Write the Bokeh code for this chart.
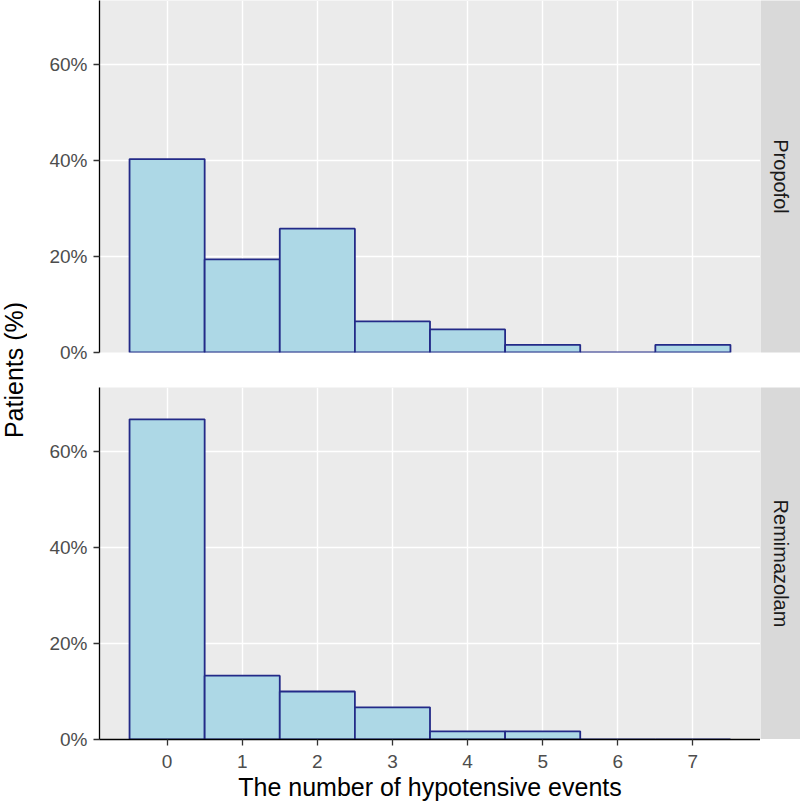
import math
from bokeh.plotting import figure
from bokeh.layouts import row, column
from bokeh.models import (Range1d, FixedTicker, PrintfTickFormatter, Grid, Label,
                          ColumnDataSource)
from bokeh.embed import file_html
from bokeh.resources import INLINE

# ---- data (percent of patients per number of hypotensive events) ----
events = [0, 1, 2, 3, 4, 5, 6, 7]
propofol_pct = [40.3, 19.4, 25.8, 6.5, 4.8, 1.6, 0.0, 1.6]
remimazolam_pct = [66.7, 13.3, 10.0, 6.7, 1.7, 1.7, 0.0, 0.0]
groups = ["Propofol", "Remimazolam"]
y_ticks = [0, 20, 40, 60]
x_label = "The number of hypotensive events"
y_label = "Patients (%)"

FONT = "Liberation Sans"
PANEL_BG = "#EBEBEB"
STRIP_BG = "#D9D9D9"
FILL = "#ADD8E6"
EDGE = "#232A88"
FW, FH = 661, 352
GAP = 35
LEFT = 72
LAB_W = 27
STRIP_W = 40
TICK_FS = "19px"
TITLE_FS = "25px"
STRIP_FS = "20px"


def make_panel(vals, show_x):
    p = figure(frame_width=FW, frame_height=FH,
               x_range=Range1d(-0.9, 7.9), y_range=Range1d(0, 73.33),
               output_backend="svg", toolbar_location=None,
               x_axis_location="below" if show_x else None,
               min_border_left=LEFT, min_border_right=0, min_border_top=0,
               min_border_bottom=0 if show_x else GAP)
    p.background_fill_color = PANEL_BG
    p.border_fill_color = "white"
    p.outline_line_color = None

    src = ColumnDataSource(dict(x=events, top=vals))
    p.vbar(x="x", top="top", bottom=0, width=1.0, source=src,
           fill_color=FILL, line_color=EDGE, line_width=1.8)

    # y axis
    p.yaxis.ticker = FixedTicker(ticks=y_ticks)
    p.yaxis.formatter = PrintfTickFormatter(format="%d%%")
    p.yaxis.axis_line_color = "black"
    p.yaxis.axis_line_width = 1.3
    p.yaxis.major_tick_line_color = "#333333"
    p.yaxis.major_tick_line_width = 1.3
    p.yaxis.major_tick_out = 6
    p.yaxis.major_tick_in = 0
    p.yaxis.minor_tick_line_color = None
    p.yaxis.major_label_text_font = FONT
    p.yaxis.major_label_text_font_size = TICK_FS
    p.yaxis.major_label_text_color = "#4D4D4D"
    p.yaxis.major_label_standoff = 6
    p.ygrid.grid_line_color = "white"
    p.ygrid.grid_line_width = 1.4
    p.ygrid.minor_grid_line_color = None

    if show_x:
        p.xaxis.ticker = FixedTicker(ticks=events)
        p.xaxis.axis_line_color = "black"
        p.xaxis.axis_line_width = 1.3
        p.xaxis.major_tick_line_color = "#333333"
        p.xaxis.major_tick_line_width = 1.3
        p.xaxis.major_tick_out = 6
        p.xaxis.major_tick_in = 0
        p.xaxis.minor_tick_line_color = None
        p.xaxis.major_label_text_font = FONT
        p.xaxis.major_label_text_font_size = TICK_FS
        p.xaxis.major_label_text_color = "#4D4D4D"
        p.xaxis.major_label_standoff = 9
        p.xaxis.axis_label = x_label
        p.xaxis.axis_label_text_font = FONT
        p.xaxis.axis_label_text_font_size = TITLE_FS
        p.xaxis.axis_label_text_font_style = "normal"
        p.xaxis.axis_label_text_color = "black"
        p.xaxis.axis_label_standoff = 2
        p.xgrid.grid_line_color = "white"
        p.xgrid.grid_line_width = 1.4
    else:
        g = Grid(dimension=0, ticker=FixedTicker(ticks=events),
                 grid_line_color="white", grid_line_width=1.4)
        p.add_layout(g)
    return p


def make_strip(name, bottom):
    s = figure(frame_width=STRIP_W, frame_height=FH,
               x_range=Range1d(0, 1), y_range=Range1d(0, 1),
               output_backend="svg", toolbar_location=None,
               x_axis_location=None, y_axis_location=None,
               min_border_left=0, min_border_right=0, min_border_top=0,
               min_border_bottom=bottom)
    s.background_fill_color = STRIP_BG
    s.border_fill_color = "white"
    s.outline_line_color = None
    s.xgrid.visible = False
    s.ygrid.visible = False
    s.add_layout(Label(x=0.5, y=0.5, text=name, angle=-math.pi / 2,
                       text_align="center", text_baseline="middle",
                       text_font=FONT, text_font_size=STRIP_FS,
                       text_color="#1A1A1A"))
    return s


top = make_panel(propofol_pct, False)
bot = make_panel(remimazolam_pct, True)
s_top = make_strip(groups[0], GAP)
s_bot = make_strip(groups[1], 0)

TOTAL_H = 798
center_from_top = (FH + GAP + FH) / 2.0
lab = figure(frame_width=LAB_W, frame_height=TOTAL_H,
             x_range=Range1d(0, 1), y_range=Range1d(0, TOTAL_H),
             output_backend="svg", toolbar_location=None,
             x_axis_location=None, y_axis_location=None, min_border=0)
lab.outline_line_color = None
lab.xgrid.visible = False
lab.ygrid.visible = False
lab.background_fill_color = "white"
lab.add_layout(Label(x=0.5, y=TOTAL_H - center_from_top, text=y_label,
                     angle=math.pi / 2, text_align="center",
                     text_baseline="middle", text_font=FONT,
                     text_font_size=TITLE_FS, text_color="black"))

layout = row(lab, column(row(top, s_top), row(bot, s_bot)))

with open("out.html", "w") as f:
    f.write(file_html(layout, INLINE))
